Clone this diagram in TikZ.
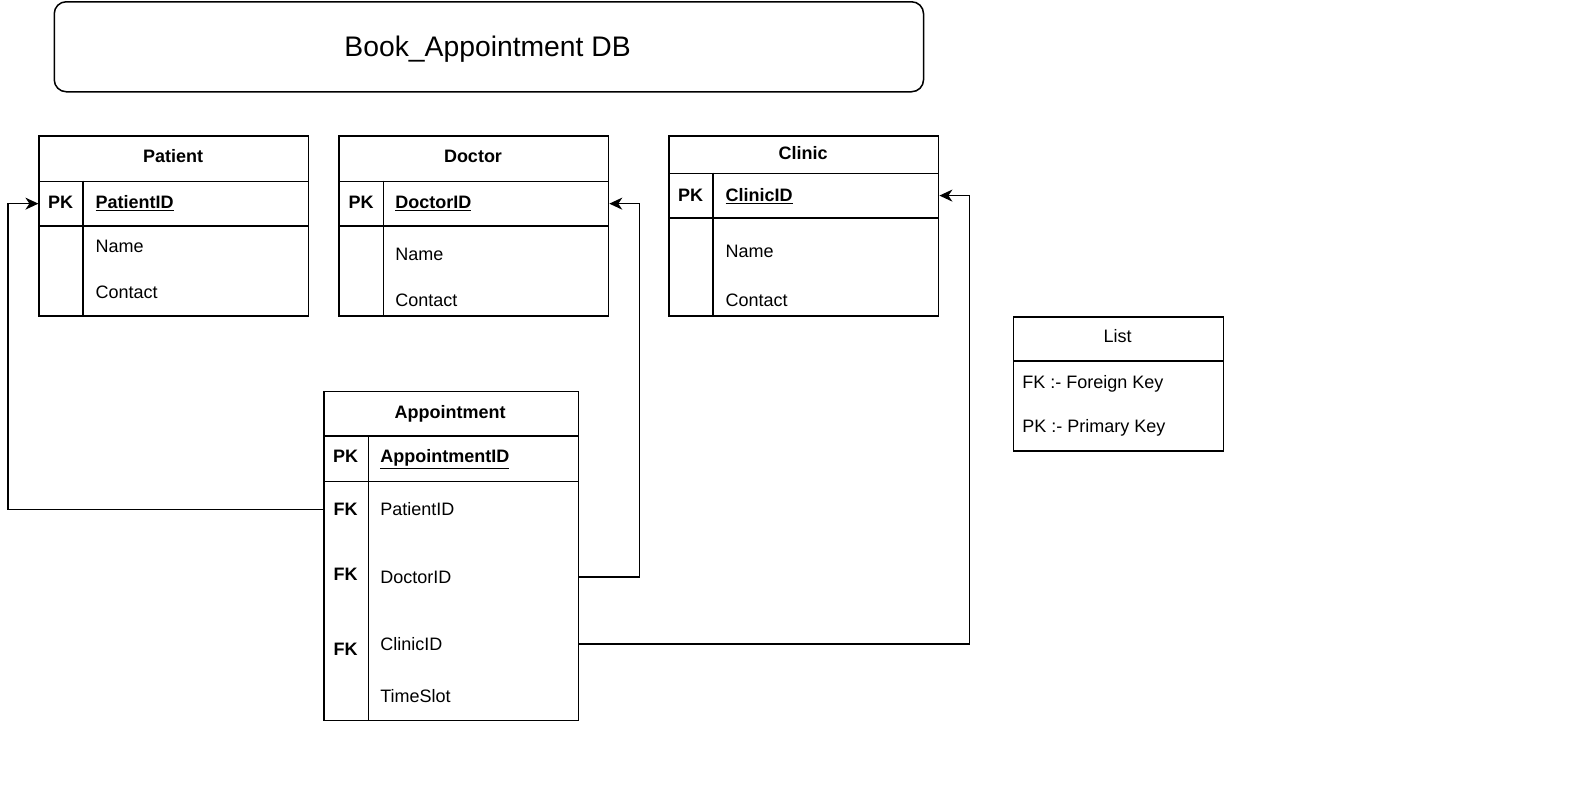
\documentclass[tikz,border=0pt]{standalone}
\usepackage{fontspec}
\setmainfont{Liberation Sans}
\usetikzlibrary{arrows.meta}
\begin{document}
\begin{tikzpicture}[x=1pt,y=-1pt, line width=1.5pt,
  cell/.style={draw, rectangle, anchor=north west, inner sep=0pt},
  lbl/.style={inner sep=0pt, text height=12.9pt, text depth=0pt, font=\fontsize{18}{21}\selectfont},
  hdr/.style={lbl, font=\fontsize{18}{21}\selectfont\bfseries},
  fld/.style={lbl, anchor=west},
  key/.style={lbl, font=\fontsize{18}{21}\selectfont\bfseries},
  tipshape/.tip={Stealth[length=13pt,width=12pt,inset=4pt]},
  link/.style={line width=1.5pt, -tipshape},
]
\useasboundingbox (0,0) rectangle (1583,803);

% Title
\node[draw, rounded corners=12pt, minimum width=869.3pt, minimum height=90pt, anchor=north west, inner sep=0pt] (title) at (53.5,1) {};
\node[inner sep=0pt, text height=20.3pt, text depth=0pt, font=\fontsize{28.3}{34}\selectfont] (titletext) at (487.6,46) {Book\_Appointment DB};

% Patient
\node[cell, minimum width=269.5pt, minimum height=45.4pt] (pathead) at (38.4,135.3) {};
\node[cell, minimum width=269.5pt, minimum height=44.4pt] (patpk) at (38.4,180.7) {};
\node[cell, minimum width=269.5pt, minimum height=89.9pt] (patbody) at (38.4,225.1) {};
\draw (patpk.north west) ++(44.4,0) coordinate (patdivtop) -- (patdivtop |- patbody.south);
\node[hdr] (pattitle) at (173.2,156.5) {Patient};
\node[key] (patpkl) at (60.6,202) {PK};
\node[fld] (patid) at (94.9,202) {\textbf{\underline{PatientID}}};
\node[fld] (patname) at (94.9,246.3) {Name};
\node[fld] (patcontact) at (94.9,291.8) {Contact};

% Doctor
\node[cell, minimum width=269.6pt, minimum height=45.4pt] (dochead) at (338.2,135.3) {};
\node[cell, minimum width=269.6pt, minimum height=44.4pt] (docpk) at (338.2,180.7) {};
\node[cell, minimum width=269.6pt, minimum height=89.9pt] (docbody) at (338.2,225.1) {};
\draw (docpk.north west) ++(45.4,0) coordinate (docdivtop) -- (docdivtop |- docbody.south);
\node[hdr] (doctitle) at (473,156.5) {Doctor};
\node[key] (docpkl) at (361,202) {PK};
\node[fld] (docid) at (394.7,202) {\textbf{\underline{DoctorID}}};
\node[fld] (docname) at (394.7,254.4) {Name};
\node[fld] (doccontact) at (394.7,299.9) {Contact};

% Clinic
\node[cell, minimum width=269.5pt, minimum height=37.3pt] (clihead) at (668.4,135.3) {};
\node[cell, minimum width=269.5pt, minimum height=44.5pt] (clipk) at (668.4,172.6) {};
\node[cell, minimum width=269.5pt, minimum height=97.9pt] (clibody) at (668.4,217.1) {};
\draw (clipk.north west) ++(44.4,0) coordinate (clidivtop) -- (clidivtop |- clibody.south);
\node[hdr] (clititle) at (803.2,153.5) {Clinic};
\node[key] (clipkl) at (690.6,194.9) {PK};
\node[fld] (cliid) at (724.9,194.9) {\textbf{\underline{ClinicID}}};
\node[fld] (cliname) at (724.9,251.4) {Name};
\node[fld] (clicontact) at (724.9,299.9) {Contact};

% List
\node[cell, minimum width=210pt, minimum height=44.4pt] (listhead) at (1012.6,316) {};
\node[cell, minimum width=210pt, minimum height=89.9pt] (listbody) at (1012.6,360.4) {};
\node[lbl] (listtitle) at (1117.6,336.2) {List};
\node[fld] (listfk) at (1021.7,381.6) {FK :- Foreign Key};
\node[fld] (listpk) at (1021.7,426) {PK :- Primary Key};

% Appointment
\node[cell, minimum width=254.5pt, minimum height=44.4pt] (aphead) at (323,390.7) {};
\node[cell, minimum width=254.5pt, minimum height=45.5pt] (appk) at (323,435.1) {};
\node[cell, minimum width=254.5pt, minimum height=239.2pt] (apbody) at (323,480.6) {};
\draw (appk.north west) ++(45.5,0) coordinate (apdivtop) -- (apdivtop |- apbody.south);
\node[hdr] (aptitle) at (450.2,411.9) {Appointment};
\node[key] (appkl) at (345.7,456.3) {PK};
\node[fld] (apid) at (379.6,456.3) {\textbf{\underline{AppointmentID}}};
\node[key] (apfk1) at (345.7,508.8) {FK};
\node[fld] (appat) at (379.6,509.3) {PatientID};
\node[key] (apfk2) at (345.7,574.4) {FK};
\node[fld] (apdoc) at (379.6,577) {DoctorID};
\node[key] (apfk3) at (345.7,649.2) {FK};
\node[fld] (apcli) at (379.6,644.1) {ClinicID};
\node[fld] (aptime) at (379.6,695.6) {TimeSlot};

% Connectors
\draw[link] (apbody.west |- appat.west) -- ++(-314.9,0) |- (patpk.west);
\draw[link] (apbody.east |- apdoc.east) -- ++(60.5,0) |- (docpk.east);
\draw[link] (apbody.east |- apcli.east) -- ++(390.7,0) |- (clipk.east);
\end{tikzpicture}
\end{document}
